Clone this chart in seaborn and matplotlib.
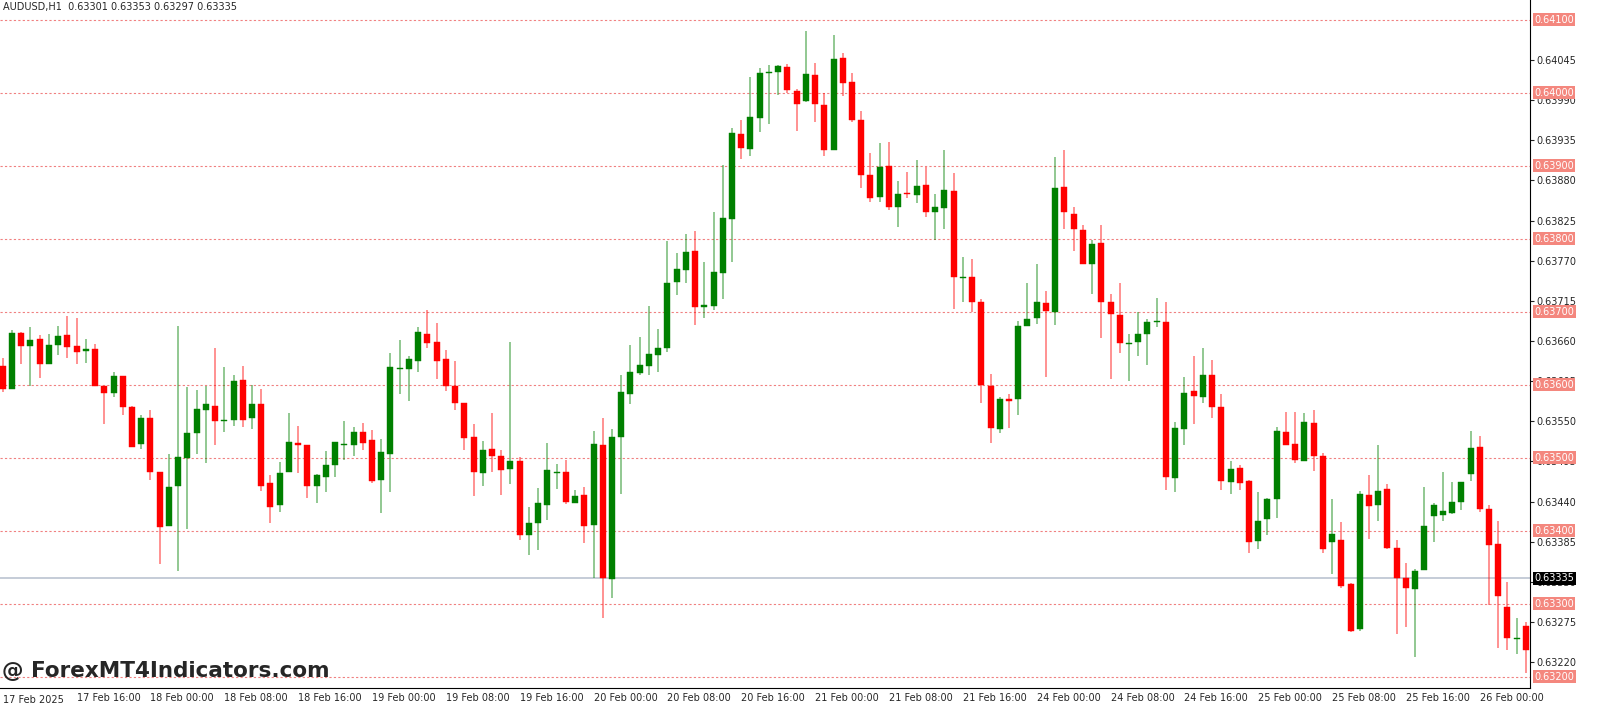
import numpy as np
import pandas as pd
import matplotlib
matplotlib.use("Agg")
import matplotlib.pyplot as plt
import matplotlib.transforms as mtransforms
import seaborn as sns

# AUDUSD H1 candles, prices in units of 1e-5
opens = [63626, 63594, 63671, 63653, 63663, 63629, 63655, 63668, 63653, 63646,
         63649, 63599, 63589, 63612, 63569, 63519, 63554, 63480, 63406, 63462,
         63500, 63534, 63565, 63571, 63550, 63552, 63606, 63554, 63573, 63465,
         63435, 63480, 63520, 63517, 63462, 63474, 63490, 63517, 63517, 63536,
         63524, 63470, 63505, 63621, 63621, 63633, 63669, 63659, 63635, 63598,
         63575, 63528, 63479, 63512, 63503, 63484, 63495, 63394, 63411, 63435,
         63479, 63480, 63438, 63449, 63408, 63517, 63334, 63529, 63587, 63616,
         63626, 63641, 63650, 63741, 63757, 63783, 63707, 63708, 63753, 63827,
         63944, 63923, 63966, 64027, 64028, 64035, 64002, 63988, 64024, 63983,
         63921, 64047, 64015, 63962, 63887, 63857, 63899, 63844, 63862, 63860,
         63874, 63836, 63842, 63866, 63746, 63747, 63713, 63598, 63540, 63580,
         63581, 63681, 63692, 63712, 63700, 63871, 63834, 63812, 63765, 63794,
         63713, 63696, 63656, 63658, 63669, 63686, 63686, 63473, 63540, 63591,
         63583, 63614, 63570, 63467, 63486, 63468, 63386, 63416, 63443, 63536,
         63519, 63496, 63548, 63502, 63385, 63387, 63327, 63265, 63449, 63435,
         63457, 63377, 63335, 63320, 63346, 63420, 63421, 63425, 63440, 63478,
         63515, 63430, 63382, 63296, 63252, 63270]
highs = [63637, 63675, 63672, 63679, 63668, 63669, 63680, 63694, 63691, 63663,
         63656, 63599, 63617, 63612, 63571, 63558, 63566, 63480, 63505, 63680,
         63597, 63593, 63598, 63651, 63625, 63613, 63626, 63600, 63594, 63477,
         63494, 63561, 63543, 63517, 63478, 63509, 63521, 63550, 63542, 63547,
         63538, 63526, 63643, 63661, 63639, 63679, 63702, 63684, 63648, 63632,
         63575, 63546, 63523, 63561, 63511, 63659, 63501, 63433, 63458, 63520,
         63492, 63497, 63456, 63460, 63537, 63554, 63539, 63613, 63655, 63666,
         63708, 63677, 63797, 63780, 63807, 63810, 63768, 63837, 63901, 63952,
         63962, 64022, 64034, 64038, 64038, 64040, 64005, 64084, 64041, 64000,
         64079, 64054, 64027, 63975, 63917, 63931, 63933, 63879, 63892, 63908,
         63898, 63861, 63921, 63890, 63775, 63772, 63717, 63615, 63583, 63587,
         63687, 63739, 63765, 63729, 63912, 63922, 63843, 63819, 63798, 63819,
         63725, 63739, 63669, 63700, 63690, 63719, 63713, 63549, 63611, 63639,
         63650, 63634, 63587, 63496, 63490, 63469, 63453, 63445, 63542, 63563,
         63563, 63561, 63565, 63507, 63443, 63412, 63329, 63455, 63476, 63517,
         63464, 63387, 63356, 63348, 63460, 63438, 63480, 63467, 63467, 63537,
         63530, 63435, 63413, 63330, 63281, 63275]
lows = [63590, 63594, 63629, 63599, 63609, 63628, 63641, 63637, 63629, 63630,
        63599, 63546, 63583, 63558, 63515, 63512, 63469, 63355, 63406, 63345,
        63403, 63505, 63493, 63517, 63536, 63544, 63542, 63540, 63454, 63411,
        63426, 63480, 63479, 63445, 63438, 63453, 63474, 63497, 63503, 63511,
        63465, 63425, 63453, 63588, 63578, 63618, 63651, 63608, 63591, 63565,
        63511, 63448, 63461, 63480, 63449, 63464, 63387, 63367, 63374, 63415,
        63457, 63437, 63438, 63383, 63336, 63281, 63308, 63450, 63573, 63614,
        63614, 63617, 63645, 63723, 63739, 63682, 63692, 63703, 63718, 63768,
        63909, 63913, 63946, 63957, 63997, 64000, 63948, 63987, 63960, 63914,
        63921, 63995, 63960, 63870, 63851, 63850, 63840, 63816, 63856, 63849,
        63830, 63798, 63814, 63704, 63713, 63700, 63575, 63520, 63534, 63541,
        63558, 63681, 63683, 63611, 63682, 63814, 63783, 63765, 63725, 63664,
        63608, 63643, 63605, 63639, 63627, 63679, 63456, 63453, 63517, 63546,
        63575, 63555, 63456, 63451, 63456, 63369, 63375, 63394, 63417, 63518,
        63493, 63496, 63482, 63370, 63341, 63321, 63261, 63263, 63389, 63413,
        63375, 63259, 63268, 63227, 63346, 63385, 63414, 63423, 63429, 63468,
        63426, 63298, 63239, 63237, 63231, 63205]
closes = [63594, 63671, 63653, 63661, 63628, 63655, 63667, 63652, 63645, 63649,
          63599, 63589, 63612, 63569, 63515, 63554, 63480, 63405, 63460, 63501,
          63534, 63567, 63573, 63550, 63552, 63605, 63552, 63574, 63462, 63433,
          63479, 63521, 63517, 63462, 63476, 63490, 63521, 63519, 63535, 63520,
          63468, 63508, 63625, 63622, 63635, 63672, 63657, 63633, 63599, 63575,
          63527, 63480, 63511, 63503, 63483, 63496, 63394, 63411, 63438, 63483,
          63480, 63439, 63447, 63407, 63519, 63335, 63529, 63590, 63618, 63627,
          63642, 63650, 63740, 63759, 63782, 63707, 63709, 63755, 63829, 63945,
          63924, 63967, 64027, 64029, 64036, 64004, 63984, 64025, 63984, 63922,
          64046, 64013, 63963, 63888, 63856, 63898, 63843, 63861, 63861, 63872,
          63836, 63843, 63867, 63747, 63748, 63713, 63600, 63541, 63581, 63578,
          63681, 63690, 63713, 63701, 63870, 63836, 63813, 63766, 63793, 63713,
          63697, 63657, 63657, 63669, 63686, 63688, 63474, 63541, 63589, 63584,
          63613, 63569, 63468, 63484, 63466, 63385, 63413, 63444, 63537, 63518,
          63497, 63549, 63503, 63375, 63396, 63325, 63263, 63450, 63434, 63455,
          63376, 63336, 63322, 63345, 63406, 63435, 63427, 63440, 63467, 63513,
          63430, 63381, 63311, 63253, 63252, 63237]

date_labels = ["17 Feb 16:00", "18 Feb 00:00", "18 Feb 08:00", "18 Feb 16:00",
               "19 Feb 00:00", "19 Feb 08:00", "19 Feb 16:00", "20 Feb 00:00",
               "20 Feb 08:00", "20 Feb 16:00", "21 Feb 00:00", "21 Feb 08:00",
               "21 Feb 16:00", "24 Feb 00:00", "24 Feb 08:00", "24 Feb 16:00",
               "25 Feb 00:00", "25 Feb 08:00", "25 Feb 16:00", "26 Feb 00:00"]
scale_ticks = [0.64045, 0.63990, 0.63935, 0.63880, 0.63825, 0.63770, 0.63715,
               0.63660, 0.63605, 0.63550, 0.63495, 0.63440, 0.63385, 0.63330,
               0.63275, 0.63220]
level_lines = [0.641, 0.640, 0.639, 0.638, 0.637, 0.636, 0.635, 0.634, 0.633, 0.632]
current_price = 0.63335

df = pd.DataFrame({"open": opens, "high": highs, "low": lows, "close": closes}) / 1e5
df["idx"] = np.arange(len(df))
df["up"] = df["close"] >= df["open"]

sns.set_style("white")
plt.rcParams["font.family"] = ["DejaVu Sans"]

fig = plt.figure(figsize=(16, 7.12), dpi=100)
ax = fig.add_axes([0.0, 0.034, 0.956, 0.966])

green, red = "#008000", "#ff0000"
colors = np.where(df["up"], green, red)

for lvl in level_lines:
    ax.axhline(lvl, color="#f08080", lw=0.8, ls=(0, (2, 2)), zorder=1)
ax.axhline(current_price, color="#c0c8d4", lw=1.3, zorder=1)

ax.vlines(df["idx"], df["low"], df["high"], colors=colors, lw=1.2, alpha=0.5, zorder=2)
body_low = df[["open", "close"]].min(axis=1)
body_h = (df["open"] - df["close"]).abs().clip(lower=0.000015)
ax.bar(df["idx"], body_h, bottom=body_low, width=0.65, color=colors,
       edgecolor=colors, linewidth=0.3, zorder=3)

ax.set_xlim(-0.3, 165.4)
ax.set_ylim(0.63185, 0.64127)

# x axis dates
ax.set_xticks(np.arange(8, 8 * (len(date_labels) + 1), 8))
ax.set_xticklabels(date_labels, ha="left", fontsize=7)
ax.tick_params(axis="x", length=3, pad=1, direction="out")
ax.text(0.002, -0.018, "17 Feb 2025", transform=ax.transAxes, fontsize=7, va="center")

# right price scale
ax.yaxis.tick_right()
ax.set_yticks(scale_ticks)
ax.set_yticklabels([f"{t:.5f}" for t in scale_ticks], fontsize=7)
ax.tick_params(axis="y", length=3, pad=2, direction="out", right=True)
trans = mtransforms.blended_transform_factory(ax.transAxes, ax.transData)
for lvl in level_lines:
    ax.text(1.003, lvl, f"{lvl:.5f}", transform=trans, fontsize=7, va="center",
            ha="left", color="white",
            bbox=dict(boxstyle="square,pad=0.15", fc="#f4877e", ec="none"))
ax.text(1.003, current_price, f"{current_price:.5f}", transform=trans, fontsize=7,
        va="center", ha="left", color="white",
        bbox=dict(boxstyle="square,pad=0.15", fc="black", ec="none"))

for side in ["left", "top"]:
    ax.spines[side].set_visible(False)
for side in ["right", "bottom"]:
    ax.spines[side].set_color("black")
    ax.spines[side].set_linewidth(0.8)

ax.text(0.002, 0.997, "AUDUSD,H1  0.63301 0.63353 0.63297 0.63335",
        transform=ax.transAxes, fontsize=7, va="top", ha="left")
fig.text(0.001, 0.057, "@ ForexMT4Indicators.com", fontsize=15.5,
         fontweight="bold", va="center", ha="left")

fig.savefig("out.png", dpi=100)
